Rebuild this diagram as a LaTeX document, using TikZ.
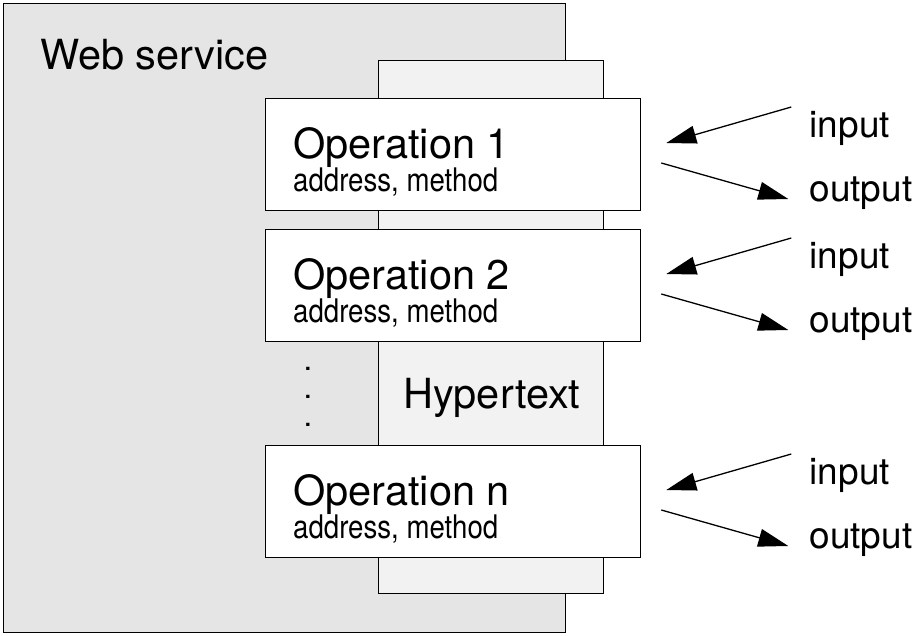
\documentclass[tikz,border=0pt]{standalone}
\usepackage{fontspec}
\setmainfont{TeX Gyre Heros}
\newfontfamily\narrowfont[FakeStretch=0.85]{TeX Gyre Heros}
\usetikzlibrary{arrows.meta, positioning}
\tikzset{
	servicebox/.style={
			rectangle,
			draw=black,
			line width=1.3pt,
			fill=black!10,
			inner sep=0pt,
			anchor=north west
		},
	hyperbox/.style={
			servicebox,
			fill=black!5
		},
	opbox/.style={
			servicebox,
			fill=white,
			minimum width=375pt,
			minimum height=112pt
		},
	bigtext/.style={
			inner sep=0pt,
			anchor=base west,
			font=\fontsize{41.5}{49}\selectfont
		},
	smalltext/.style={
			inner sep=0pt,
			anchor=base west,
			font=\narrowfont\fontsize{32.5}{38}\selectfont
		},
	iotext/.style={
			inner sep=0pt,
			anchor=base west,
			font=\fontsize{37}{44}\selectfont
		},
	dotmark/.style={
			inner sep=0pt,
			anchor=base,
			font=\bfseries\fontsize{22}{26}\selectfont
		},
	ioarrow/.style={
			line width=1.3pt,
			-{Triangle[length=30pt,width=18pt]}
		}
}
\begin{document}
\begin{tikzpicture}[x=1pt, y=-1pt]
\useasboundingbox (0,0) rectangle (916,635);

\node (ws) at (3,3) [servicebox, minimum width=562pt, minimum height=629pt] {};
\node (wslabel) at (40,69) [bigtext] {Web service};
\node (ht) at (378,60) [hyperbox, minimum width=225pt, minimum height=533pt] {};
\node (htlabel) at (403,408) [bigtext] {Hypertext};
\node (dot1) at (308,370) [dotmark] {.};
\node (dot2) at (308,398) [dotmark] {.};
\node (dot3) at (308,426) [dotmark] {.};

\node (op1) at (265,98) [opbox] {};
\node (op2) at (265,229) [opbox] {};
\node (opn) at (265,445) [opbox] {};

\node (op1title) at ([shift={(28pt,-60pt)}]op1.north west) [bigtext] {Operation 1};
\node (op1sub) at ([shift={(28pt,-93pt)}]op1.north west) [smalltext] {address, method};
\node (op2title) at ([shift={(28pt,-60pt)}]op2.north west) [bigtext] {Operation 2};
\node (op2sub) at ([shift={(28pt,-93pt)}]op2.north west) [smalltext] {address, method};
\node (opntitle) at ([shift={(28pt,-60pt)}]opn.north west) [bigtext] {Operation n};
\node (opnsub) at ([shift={(28pt,-93pt)}]opn.north west) [smalltext] {address, method};

% labels on the right
\node (in1) at ([shift={(168pt,-39pt)}]op1.north east) [iotext] {input};
\node (out1) at ([shift={(168pt,-103pt)}]op1.north east) [iotext] {output};
\node (in2) at ([shift={(168pt,-39pt)}]op2.north east) [iotext] {input};
\node (out2) at ([shift={(168pt,-103pt)}]op2.north east) [iotext] {output};
\node (inn) at ([shift={(168pt,-39pt)}]opn.north east) [iotext] {input};
\node (outn) at ([shift={(168pt,-103pt)}]opn.north east) [iotext] {output};

% arrow ends
\coordinate (in1a) at ([shift={(150pt,-9pt)}]op1.north east);
\coordinate (in1b) at ([shift={(25pt,-45pt)}]op1.north east);
\coordinate (out1a) at ([shift={(20pt,-65pt)}]op1.north east);
\coordinate (out1b) at ([shift={(147pt,-101pt)}]op1.north east);
\coordinate (in2a) at ([shift={(150pt,-9pt)}]op2.north east);
\coordinate (in2b) at ([shift={(25pt,-45pt)}]op2.north east);
\coordinate (out2a) at ([shift={(20pt,-65pt)}]op2.north east);
\coordinate (out2b) at ([shift={(147pt,-101pt)}]op2.north east);
\coordinate (inna) at ([shift={(150pt,-9pt)}]opn.north east);
\coordinate (innb) at ([shift={(25pt,-45pt)}]opn.north east);
\coordinate (outna) at ([shift={(20pt,-65pt)}]opn.north east);
\coordinate (outnb) at ([shift={(147pt,-101pt)}]opn.north east);

\draw[ioarrow] (in1a) -- (in1b);
\draw[ioarrow] (out1a) -- (out1b);
\draw[ioarrow] (in2a) -- (in2b);
\draw[ioarrow] (out2a) -- (out2b);
\draw[ioarrow] (inna) -- (innb);
\draw[ioarrow] (outna) -- (outnb);

\end{tikzpicture}
\end{document}
